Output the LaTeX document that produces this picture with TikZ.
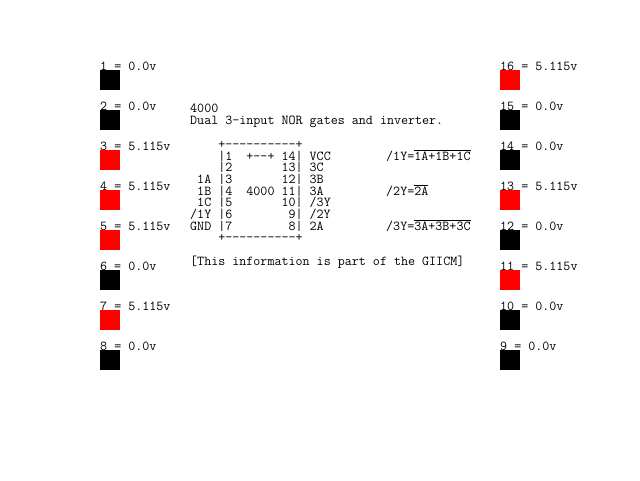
\documentclass[tikz,border=0pt]{standalone}
\usepackage{fontspec}
\newcommand{\olbar}[1]{$\overline{\hbox{\ttfamily #1}}$}
\begin{document}
\begin{tikzpicture}[x=1pt,y=-1pt,
  txt/.style={font=\fontsize{13.65pt}{14pt}\selectfont\ttfamily, inner sep=0pt, anchor=base west},
  pinhi/.style={fill=red, draw=none},
  pinlo/.style={fill=black, draw=none}]
\useasboundingbox (0,0) rectangle (640,480);
\fill[white] (0,0) rectangle (640,480);
% left pins
\foreach \i/\v/\s in {1/0.0/pinlo,2/0.0/pinlo,3/5.115/pinhi,4/5.115/pinhi,5/5.115/pinhi,6/0.0/pinlo,7/5.115/pinhi,8/0.0/pinlo}{
  \pgfmathsetmacro{\yy}{70+40*(\i-1)}
  \node[txt] (l\i) at (100,\yy) {\i{} = \v v};
  \path[\s] (100,\yy) rectangle ++(20,20);
}
% right pins
\foreach \i/\k/\v/\s in {16/1/5.115/pinhi,15/2/0.0/pinlo,14/3/0.0/pinlo,13/4/5.115/pinhi,12/5/0.0/pinlo,11/6/5.115/pinhi,10/7/0.0/pinlo,9/8/0.0/pinlo}{
  \pgfmathsetmacro{\yy}{70+40*(\k-1)}
  \node[txt] (r\i) at (500,\yy) {\i{} = \v v};
  \path[\s] (500,\yy) rectangle ++(20,20);
}
% header
\node[txt] (t0) at (190,112) {4000};
\node[txt] (t1) at (190,124) {Dual 3-input NOR gates and inverter.};
% box
\node[txt] (b0) at (190,148.5) {~~~~+----------+};
\node[txt] (b1) at (190,160.17) {~~~~|1~~+--+~14|~VCC};
\node[txt] (b2) at (190,171.84) {~~~~|2~~~~~~~13|~3C};
\node[txt] (b3) at (190,183.51) {~1A~|3~~~~~~~12|~3B};
\node[txt] (b4) at (190,195.18) {~1B~|4~~4000~11|~3A};
\node[txt] (b5) at (190,206.85) {~1C~|5~~~~~~~10|~/3Y};
\node[txt] (b6) at (190,218.52) {/1Y~|6~~~~~~~~9|~/2Y};
\node[txt] (b7) at (190,230.19) {GND~|7~~~~~~~~8|~2A};
\node[txt] (b8) at (190,241.86) {~~~~+----------+};
% equations
\node[txt] (e1) at (386,160.17) {/1Y=\olbar{1A+1B+1C}};
\node[txt] (e2) at (386,195.18) {/2Y=\olbar{2A}};
\node[txt] (e3) at (386,230.19) {/3Y=\olbar{3A+3B+3C}};
% footer
\node[txt] (f) at (190,265.2) {[This information is part of the GIICM]};
\end{tikzpicture}
\end{document}
